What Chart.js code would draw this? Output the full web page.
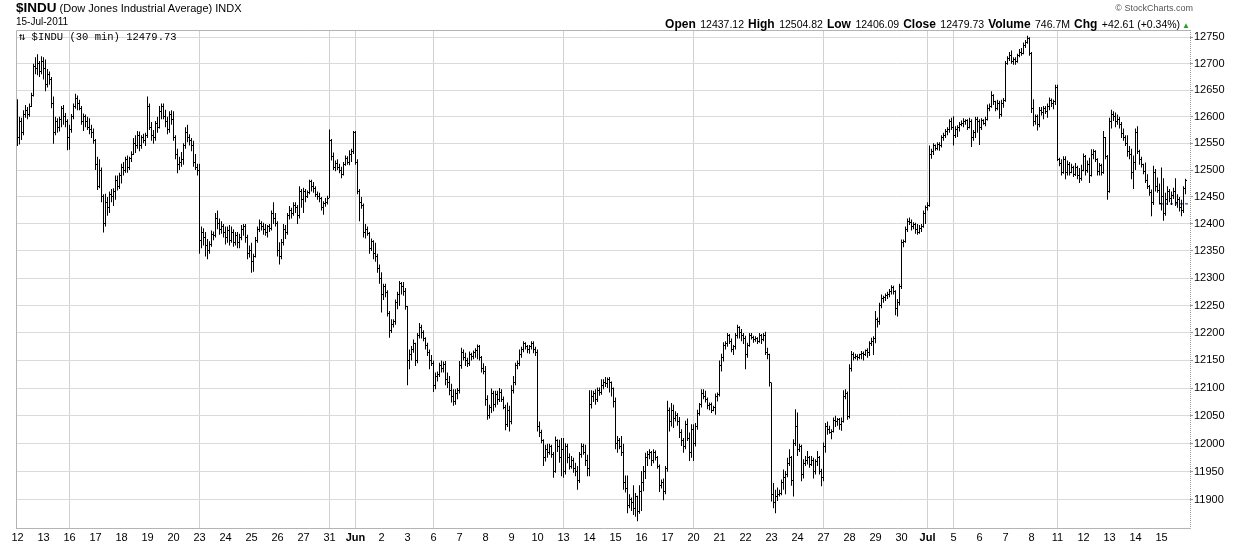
<!DOCTYPE html>
<html>
<head>
<meta charset="utf-8">
<script src="https://cdn.jsdelivr.net/npm/chart.js"></script>
<style>
  html, body { margin: 0; padding: 0; background: #fff; }
  #wrap { position: relative; width: 1240px; height: 546px; font-family: "Liberation Sans", Arial, sans-serif; color: #000; }
  #chart { position: absolute; left: 0; top: 0; }
  .txt { position: absolute; white-space: nowrap; }
  .ohlc b { font-size: 12px; }
  .ohlc span { font-size: 10.5px; margin-right: 4px; }
</style>
</head>
<body>
<div id="wrap">
  <canvas id="chart" width="1240" height="546"></canvas>
  <div class="txt" style="left:16px;top:0px;font-size:11px"><b style="font-size:13.5px">$INDU</b> (Dow Jones Industrial Average) INDX</div>
  <div class="txt" style="left:16px;top:16px;font-size:10px">15-Jul-2011</div>
  <div class="txt" style="right:47px;top:3px;font-size:9px;color:#555">&copy; StockCharts.com</div>
  <div class="txt ohlc" style="right:50px;top:14px">
    <b>Open</b> <span>12437.12</span><b>High</b> <span>12504.82</span><b>Low</b> <span>12406.09</span><b>Close</b> <span>12479.73</span><b>Volume</b> <span>746.7M</span><b>Chg</b> <span style="margin-right:2px">+42.61 (+0.34%)</span><span style="color:#2a9a2a;font-size:8px;margin:0">&#9650;</span>
  </div>
  <div class="txt" style="left:19px;top:30px;font-size:10.5px;font-family:'Liberation Mono','DejaVu Sans Mono',monospace">&#8645; $INDU (30 min) 12479.73</div>
</div>
<script>
// trading days shown on the axis (13 half-hour bars each)
const dayLabels = ['12','13','16','17','18','19','20','23','24','25','26','27','31','Jun','2','3','6','7','8','9','10','13','14','15','16','17','20','21','22','23','24','27','28','29','30','Jul','5','6','7','8','11','12','13','14','15'];
const monthLabels = ['Jun', 'Jul'];
const weekStarts = [2, 7, 12, 13, 16, 21, 26, 31, 35, 36, 40];
const barsPerDay = 13;
const yTicks = [11900,11950,12000,12050,12100,12150,12200,12250,12300,12350,12400,12450,12500,12550,12600,12650,12700,12750];
const prevClose = 12437.12;

const opens = [
12630,12560,12590,12570,12605,12612,12605,12620,12640,12695,12690,12700,12685,
12705,12690,12660,12680,12670,12625,12570,12590,12580,12595,12615,12600,12590,
12560,12575,12600,12620,12635,12625,12615,12590,12600,12590,12580,12575,12570,
12555,12510,12470,12500,12450,12400,12440,12430,12455,12450,12460,12480,12470,
12490,12505,12500,12520,12505,12522,12530,12550,12545,12565,12545,12560,12555,
12565,12620,12580,12565,12560,12588,12580,12610,12620,12600,12590,12575,12605,
12595,12560,12530,12510,12515,12520,12545,12570,12560,12555,12545,12515,12505,
12500,12370,12385,12375,12360,12350,12362,12380,12378,12410,12400,12390,12395,
12385,12375,12388,12370,12385,12365,12378,12365,12375,12390,12395,12375,12345,
12350,12330,12340,12370,12390,12400,12395,12390,12385,12395,12392,12420,12410,
12400,12350,12340,12365,12390,12385,12415,12425,12420,12435,12430,12415,12460,
12445,12460,12450,12458,12478,12470,12465,12455,12450,12448,12430,12438,12440,
12448,12555,12525,12505,12512,12505,12500,12492,12510,12522,12515,12530,12535,
12570,12515,12460,12440,12435,12385,12390,12382,12355,12368,12345,12340,12318,
12300,12270,12284,12273,12235,12205,12215,12220,12255,12270,12290,12285,12275,
12248,12150,12160,12170,12180,12150,12195,12210,12200,12190,12178,12165,12150,
12145,12105,12120,12125,12140,12135,12142,12115,12110,12095,12085,12075,12090,
12095,12140,12165,12155,12150,12145,12160,12158,12165,12168,12175,12155,12135,
12130,12080,12050,12065,12090,12070,12088,12080,12092,12080,12065,12035,12060,
12040,12095,12110,12140,12145,12160,12170,12180,12175,12170,12175,12180,12170,
12165,12030,12020,12005,11975,11990,11985,11995,11980,11950,12005,11995,11975,
11990,11950,11995,11975,11960,11970,11955,11950,11935,11980,11995,11985,11970,
11955,12070,12085,12090,12080,12095,12092,12105,12110,12108,12115,12110,12100,
12075,12000,12005,11995,11985,11930,11920,11890,11900,11895,11885,11905,11880,
11915,11930,11950,11975,11980,11985,11970,11985,11975,11960,11925,11930,11915,
11955,12060,12040,12060,12045,12050,12040,12020,12005,11995,12035,12010,11985,
12025,12000,12030,12055,12070,12090,12085,12080,12068,12070,12060,12065,12085,
12088,12140,12155,12178,12180,12195,12185,12170,12175,12195,12210,12200,12195,
12190,12160,12178,12195,12192,12188,12190,12185,12195,12188,12195,12165,12160,
12110,11910,11895,11905,11910,11912,11930,11940,11945,11965,11975,11935,12000,
12030,11990,11995,11945,11965,11970,11975,11962,11970,11950,11968,11975,11950,
11940,11995,12030,12025,12020,12022,12042,12040,12044,12035,12040,12085,12090,
12048,12135,12160,12155,12158,12155,12160,12163,12160,12168,12165,12180,12185,
12190,12225,12220,12250,12262,12265,12268,12270,12275,12283,12275,12245,12255,
12285,12365,12368,12390,12405,12402,12395,12398,12390,12385,12392,12395,12420,
12430,12435,12530,12535,12545,12540,12548,12545,12560,12565,12572,12575,12590,
12580,12565,12575,12580,12585,12588,12590,12592,12580,12590,12560,12570,12595,
12590,12580,12592,12588,12595,12615,12620,12640,12628,12615,12625,12605,12625,
12630,12700,12710,12715,12705,12708,12705,12715,12722,12720,12735,12740,12748,
12720,12615,12590,12600,12585,12612,12608,12615,12610,12620,12630,12625,12628,
12655,12520,12512,12495,12520,12495,12510,12495,12505,12492,12505,12490,12485,
12500,12525,12500,12510,12490,12530,12535,12520,12498,12508,12495,12560,12525,
12460,12590,12605,12600,12590,12595,12585,12568,12560,12550,12535,12530,12495,
12515,12570,12535,12520,12510,12498,12480,12470,12458,12440,12495,12470,12462,
12437.12,12450,12420,12445,12460,12448,12452,12460,12440,12445,12430,12425,12465
];
const highs = [
12633,12600,12598,12612,12622,12618,12625,12645,12700,12712,12718,12705,12714,
12712,12708,12690,12685,12675,12638,12600,12597,12600,12620,12622,12607,12595,
12585,12605,12625,12643,12640,12632,12620,12606,12604,12600,12597,12585,12578,
12558,12525,12520,12505,12455,12456,12450,12460,12465,12466,12490,12490,12495,
12512,12515,12525,12527,12525,12535,12560,12565,12573,12572,12565,12568,12570,
12638,12625,12590,12575,12592,12600,12620,12625,12625,12613,12600,12610,12612,
12610,12565,12540,12525,12534,12550,12580,12585,12567,12560,12555,12530,12512,
12512,12395,12392,12385,12372,12368,12388,12386,12420,12425,12410,12405,12400,
12395,12395,12398,12395,12390,12385,12385,12382,12398,12400,12400,12380,12360,
12365,12345,12376,12395,12408,12405,12402,12400,12398,12400,12425,12440,12420,
12405,12366,12372,12400,12398,12420,12433,12430,12440,12440,12435,12470,12465,
12467,12465,12462,12482,12482,12478,12470,12460,12458,12450,12442,12448,12452,
12576,12558,12533,12518,12520,12512,12506,12515,12527,12526,12537,12540,12573,
12573,12520,12465,12450,12438,12400,12395,12385,12373,12370,12365,12345,12325,
12311,12290,12290,12278,12240,12225,12225,12261,12275,12295,12293,12293,12282,
12249,12170,12176,12188,12182,12200,12218,12215,12205,12192,12182,12170,12160,
12150,12128,12130,12146,12150,12148,12149,12128,12122,12108,12098,12098,12100,
12149,12173,12170,12164,12155,12166,12164,12168,12172,12179,12178,12158,12145,
12140,12087,12070,12099,12095,12095,12095,12100,12098,12085,12070,12074,12068,
12105,12122,12146,12150,12170,12175,12185,12183,12178,12178,12185,12185,12175,
12170,12040,12025,12008,11998,12000,12000,11998,11985,12013,12008,12007,12010,
12010,12001,12000,11983,11978,11975,11966,11960,11985,12001,12000,11998,11980,
12096,12096,12095,12098,12101,12101,12116,12116,12120,12119,12120,12112,12101,
12083,12014,12010,12014,12000,11943,11943,11910,11904,11926,11912,11907,11926,
11951,11960,11984,11987,11990,11987,11990,11988,11978,11963,11936,11938,11960,
12077,12065,12073,12070,12058,12055,12048,12026,12010,12041,12045,12020,12035,
12035,12037,12061,12073,12098,12098,12095,12083,12074,12074,12068,12090,12092,
12150,12162,12183,12185,12200,12198,12190,12178,12200,12215,12212,12207,12200,
12195,12182,12200,12200,12195,12194,12192,12200,12198,12200,12202,12173,12162,
12110,11930,11918,11922,11918,11936,11954,11951,11975,11990,11978,12008,12062,
12056,12000,11998,11972,11978,11987,11978,11978,11975,11972,11987,11978,11955,
12002,12037,12040,12032,12026,12047,12050,12046,12046,12047,12096,12098,12094,
12143,12167,12165,12162,12161,12162,12167,12166,12170,12172,12185,12191,12194,
12240,12228,12255,12270,12268,12272,12275,12280,12287,12286,12278,12262,12290,
12371,12371,12395,12410,12412,12408,12403,12402,12400,12398,12400,12425,12434,
12440,12546,12540,12550,12548,12552,12552,12565,12570,12577,12580,12595,12598,
12601,12582,12584,12590,12593,12597,12595,12595,12598,12595,12575,12600,12600,
12595,12597,12595,12600,12623,12625,12648,12642,12630,12632,12630,12632,12635,
12705,12714,12722,12725,12712,12712,12719,12728,12730,12740,12745,12753,12750,
12722,12633,12604,12604,12618,12618,12620,12620,12625,12636,12634,12632,12660,
12660,12523,12520,12526,12526,12518,12515,12512,12508,12513,12508,12504,12510,
12531,12528,12518,12523,12539,12539,12537,12522,12513,12512,12573,12562,12528,
12598,12613,12610,12608,12604,12600,12590,12578,12565,12565,12545,12540,12527,
12578,12582,12538,12525,12512,12514,12492,12472,12464,12508,12502,12486,12475,
12504.82,12485,12458,12470,12465,12460,12467,12485,12455,12450,12445,12470,12484
];
const lows = [
12545,12548,12556,12565,12598,12595,12600,12618,12638,12680,12678,12675,12680,
12670,12648,12655,12660,12616,12549,12565,12570,12572,12580,12585,12580,12537,
12538,12570,12595,12615,12612,12612,12585,12573,12580,12575,12567,12560,12549,
12500,12463,12466,12440,12384,12395,12415,12420,12440,12433,12445,12462,12465,
12475,12490,12495,12495,12500,12515,12528,12532,12540,12535,12540,12550,12545,
12560,12575,12555,12549,12555,12570,12578,12595,12595,12580,12567,12570,12585,
12555,12520,12494,12500,12506,12510,12540,12552,12546,12535,12506,12500,12490,
12345,12355,12360,12340,12335,12345,12358,12370,12375,12390,12380,12382,12375,
12362,12365,12360,12365,12358,12360,12355,12355,12370,12378,12365,12335,12338,
12310,12312,12338,12365,12385,12388,12380,12378,12375,12385,12388,12400,12395,
12340,12325,12335,12360,12372,12380,12408,12410,12415,12420,12400,12410,12430,
12420,12440,12448,12455,12460,12458,12450,12445,12440,12425,12417,12432,12436,
12448,12518,12500,12498,12500,12494,12485,12490,12508,12510,12509,12515,12530,
12510,12455,12405,12428,12375,12373,12378,12345,12350,12335,12330,12310,12290,
12237,12260,12265,12230,12191,12200,12210,12215,12243,12249,12270,12268,12242,
12105,12134,12150,12164,12140,12145,12190,12190,12185,12170,12158,12134,12140,
12093,12098,12112,12120,12128,12128,12105,12100,12087,12074,12068,12070,12080,
12090,12135,12150,12140,12138,12140,12150,12152,12155,12152,12150,12128,12125,
12068,12043,12045,12055,12058,12065,12070,12075,12075,12062,12024,12030,12022,
12035,12090,12105,12134,12140,12155,12165,12170,12163,12162,12170,12163,12158,
12022,12012,12001,11960,11968,11975,11980,11975,11939,11948,11985,11966,11942,
11939,11945,11965,11954,11955,11948,11942,11918,11930,11975,11980,11960,11942,
11942,12063,12075,12070,12075,12086,12088,12098,12102,12100,12092,12085,12065,
11990,11984,11990,11978,11918,11913,11876,11885,11880,11873,11870,11862,11875,
11880,11915,11937,11960,11972,11960,11965,11970,11955,11914,11920,11899,11910,
11950,12022,12031,12028,12040,12032,12010,11996,11984,11990,12005,11969,11975,
11969,11995,12025,12050,12065,12080,12074,12062,12060,12055,12058,12052,12076,
12085,12130,12148,12170,12175,12180,12165,12160,12170,12190,12190,12185,12180,
12134,12155,12175,12188,12182,12184,12180,12182,12180,12185,12160,12152,12103,
11897,11885,11876,11898,11906,11908,11918,11910,11940,11960,11925,11906,11996,
11978,11985,11933,11938,11960,11963,11957,11960,11938,11945,11960,11945,11924,
11933,11984,12016,12018,12008,12020,12030,12032,12025,12023,12038,12080,12043,
12045,12130,12150,12152,12150,12152,12152,12150,12158,12155,12158,12176,12160,
12181,12210,12215,12245,12255,12258,12262,12265,12270,12270,12232,12230,12250,
12280,12357,12365,12385,12398,12388,12390,12382,12380,12382,12385,12393,12400,
12425,12432,12521,12528,12536,12537,12536,12542,12555,12560,12565,12570,12575,
12546,12560,12562,12572,12582,12580,12585,12575,12578,12543,12555,12560,12570,
12547,12575,12585,12582,12593,12610,12617,12622,12610,12612,12596,12600,12617,
12628,12698,12705,12700,12698,12698,12702,12712,12715,12718,12730,12738,12715,
12607,12582,12585,12574,12580,12602,12595,12605,12598,12612,12618,12614,12622,
12517,12507,12490,12493,12483,12490,12490,12494,12487,12489,12483,12476,12480,
12498,12490,12495,12476,12488,12520,12515,12490,12490,12490,12493,12520,12445,
12458,12578,12592,12580,12585,12578,12560,12555,12545,12525,12520,12483,12465,
12500,12530,12510,12505,12492,12476,12465,12452,12414,12435,12460,12458,12436,
12425,12406.09,12415,12435,12440,12435,12446,12433,12430,12423,12414,12420,12455
];
const closes = [
12560,12590,12570,12605,12612,12605,12620,12640,12695,12690,12700,12685,12705,
12690,12660,12680,12670,12625,12570,12590,12580,12595,12615,12600,12590,12560,
12575,12600,12620,12635,12625,12615,12590,12600,12590,12580,12575,12570,12555,
12510,12470,12500,12450,12400,12440,12430,12455,12450,12460,12480,12470,12490,
12505,12500,12520,12505,12522,12530,12550,12545,12565,12545,12560,12555,12565,
12620,12580,12565,12560,12588,12580,12610,12620,12600,12590,12575,12605,12595,
12560,12530,12510,12515,12520,12545,12570,12560,12555,12545,12515,12505,12500,
12370,12385,12375,12360,12350,12362,12380,12378,12410,12400,12390,12395,12385,
12375,12388,12370,12385,12365,12378,12365,12375,12390,12395,12375,12345,12350,
12330,12340,12370,12390,12400,12395,12390,12385,12395,12392,12420,12410,12400,
12350,12340,12365,12390,12385,12415,12425,12420,12435,12430,12415,12460,12445,
12460,12450,12458,12478,12470,12465,12455,12450,12448,12430,12438,12440,12448,
12555,12525,12505,12512,12505,12500,12492,12510,12522,12515,12530,12535,12570,
12515,12460,12440,12435,12385,12390,12382,12355,12368,12345,12340,12318,12300,
12270,12284,12273,12235,12205,12215,12220,12255,12270,12290,12285,12275,12248,
12150,12160,12170,12180,12150,12195,12210,12200,12190,12178,12165,12150,12145,
12105,12120,12125,12140,12135,12142,12115,12110,12095,12085,12075,12090,12095,
12140,12165,12155,12150,12145,12160,12158,12165,12168,12175,12155,12135,12130,
12080,12050,12065,12090,12070,12088,12080,12092,12080,12065,12035,12060,12040,
12095,12110,12140,12145,12160,12170,12180,12175,12170,12175,12180,12170,12165,
12030,12020,12005,11975,11990,11985,11995,11980,11950,12005,11995,11975,11990,
11950,11995,11975,11960,11970,11955,11950,11935,11980,11995,11985,11970,11955,
12070,12085,12090,12080,12095,12092,12105,12110,12108,12115,12110,12100,12075,
12000,12005,11995,11985,11930,11920,11890,11900,11895,11885,11905,11880,11915,
11930,11950,11975,11980,11985,11970,11985,11975,11960,11925,11930,11915,11955,
12060,12040,12060,12045,12050,12040,12020,12005,11995,12035,12010,11985,12025,
12000,12030,12055,12070,12090,12085,12080,12068,12070,12060,12065,12085,12088,
12140,12155,12178,12180,12195,12185,12170,12175,12195,12210,12200,12195,12190,
12160,12178,12195,12192,12188,12190,12185,12195,12188,12195,12165,12160,12110,
11910,11895,11905,11910,11912,11930,11940,11945,11965,11975,11935,12000,12030,
11990,11995,11945,11965,11970,11975,11962,11970,11950,11968,11975,11950,11940,
11995,12030,12025,12020,12022,12042,12040,12044,12035,12040,12085,12090,12048,
12135,12160,12155,12158,12155,12160,12163,12160,12168,12165,12180,12185,12190,
12225,12220,12250,12262,12265,12268,12270,12275,12283,12275,12245,12255,12285,
12365,12368,12390,12405,12402,12395,12398,12390,12385,12392,12395,12420,12430,
12435,12530,12535,12545,12540,12548,12545,12560,12565,12572,12575,12590,12580,
12565,12575,12580,12585,12588,12590,12592,12580,12590,12560,12570,12595,12590,
12580,12592,12588,12595,12615,12620,12640,12628,12615,12625,12605,12625,12630,
12700,12710,12715,12705,12708,12705,12715,12722,12720,12735,12740,12748,12720,
12615,12590,12600,12585,12612,12608,12615,12610,12620,12630,12625,12628,12655,
12520,12512,12495,12520,12495,12510,12495,12505,12492,12505,12490,12485,12500,
12525,12500,12510,12490,12530,12535,12520,12498,12508,12495,12560,12525,12460,
12590,12605,12600,12590,12595,12585,12568,12560,12550,12535,12530,12495,12515,
12570,12535,12520,12510,12498,12480,12470,12458,12440,12495,12470,12462,12437.12,
12450,12420,12445,12460,12448,12452,12460,12440,12445,12430,12425,12465,12479.73
];

const FONT = '"Liberation Sans", Arial, sans-serif';

// open tick on the left, close tick on the right of each high-low bar
const ohlcTicks = {
  id: 'ohlcTicks',
  afterDatasetsDraw(chart) {
    const { ctx, chartArea: a } = chart;
    const x = chart.scales.x, y = chart.scales.y;
    ctx.save();
    ctx.beginPath();
    ctx.rect(a.left, a.top, a.right - a.left, a.bottom - a.top);
    ctx.clip();
    ctx.fillStyle = '#000';
    for (let k = 0; k < closes.length; k++) {
      const px = Math.floor(x.getPixelForValue(k));
      ctx.fillRect(px - 1, Math.floor(y.getPixelForValue(opens[k])), 1, 1);
      ctx.fillRect(px + 1, Math.floor(y.getPixelForValue(closes[k])), 1, 1);
    }
    ctx.restore();
  }
};

// plot box: top and left edges solid, right axis dotted
const frame = {
  id: 'frame',
  afterDraw(chart) {
    const { ctx, chartArea: a } = chart;
    ctx.save();
    ctx.lineWidth = 1;
    ctx.strokeStyle = '#b4b4b4';
    ctx.beginPath();
    ctx.moveTo(a.left + 0.5, a.bottom);
    ctx.lineTo(a.left + 0.5, a.top + 0.5);
    ctx.lineTo(a.right, a.top + 0.5);
    ctx.stroke();
    ctx.strokeStyle = '#999';
    ctx.setLineDash([1, 1]);
    ctx.beginPath();
    ctx.moveTo(a.right + 0.5, a.top);
    ctx.lineTo(a.right + 0.5, a.bottom);
    ctx.stroke();
    ctx.restore();
  }
};

new Chart(document.getElementById('chart'), {
  data: {
    datasets: [
      {
        type: 'bar',
        data: closes.map((c, k) => ({ x: k, y: [lows[k], highs[k]] })),
        backgroundColor: '#000',
        borderWidth: 0,
        barThickness: 1,
        inflateAmount: 0,
        grouped: false
      },
      {
        type: 'line',
        data: [{ x: 571.25, y: prevClose }, { x: 586.25, y: prevClose }],
        borderColor: '#1c1c8c',
        borderWidth: 1,
        borderDash: [3, 2],
        pointRadius: 0
      }
    ]
  },
  options: {
    responsive: false,
    animation: false,
    events: [],
    layout: { padding: { left: 16, top: 30, right: 0, bottom: 0 } },
    plugins: { legend: { display: false }, tooltip: { enabled: false } },
    scales: {
      x: {
        type: 'linear',
        offset: false,
        min: -0.75,
        max: 586.25,
        afterBuildTicks: s => { s.ticks = dayLabels.map((d, i) => ({ value: i * barsPerDay })); },
        afterFit: s => { s.height = 18; },
        ticks: {
          autoSkip: false,
          maxRotation: 0,
          padding: 3,
          color: '#000',
          font: c => ({ family: FONT, size: 11, weight: monthLabels.includes(dayLabels[c.index]) ? 'bold' : 'normal' }),
          callback: (v, i) => dayLabels[i]
        },
        grid: {
          offset: false,
          color: c => weekStarts.includes(c.index) ? '#d2d2d2' : 'rgba(0,0,0,0)',
          drawTicks: false
        },
        border: { color: '#b4b4b4' }
      },
      y: {
        type: 'logarithmic',
        position: 'right',
        min: 11850,
        max: 12764,
        afterBuildTicks: s => { s.ticks = yTicks.map(v => ({ value: v })); },
        afterFit: s => { s.width = 50; },
        ticks: {
          color: '#000',
          padding: 1,
          font: { family: FONT, size: 11 },
          callback: v => String(v)
        },
        grid: { color: '#dadada', tickLength: 3, tickColor: '#999' },
        border: { display: false }
      }
    }
  },
  plugins: [ohlcTicks, frame]
});
</script>
</body>
</html>
